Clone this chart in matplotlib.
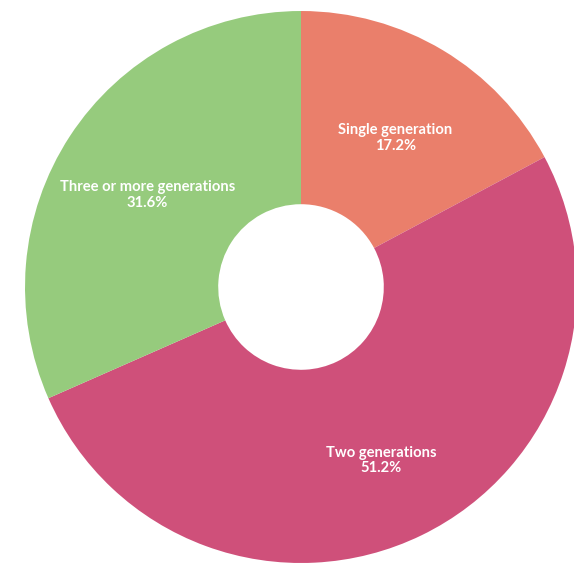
import numpy as np
import matplotlib.pyplot as plt

# Household composition by number of generations
categories = ["Single generation", "Two generations", "Three or more generations"]
shares = [17.2, 51.2, 31.6]
colors = ["#EA7F6B", "#CF507A", "#96CB7D"]

fig = plt.figure(figsize=(5.74, 5.66), dpi=100)
ax = fig.add_axes([0, 0, 1, 1])

wedges, _ = ax.pie(shares, colors=colors, startangle=90, counterclock=False,
                   radius=1.0, wedgeprops=dict(width=0.70, linewidth=0))

# label each slice at its mid-angle, nudged slightly downward
for w, name, val in zip(wedges, categories, shares):
    mid = np.deg2rad((w.theta1 + w.theta2) / 2)
    r = 0.665
    ax.text(r * np.cos(mid), r * np.sin(mid) - 0.03, f"{name}\n{val}%",
            ha="center", va="center", color="white", fontsize=10.6,
            fontweight="bold", family=["Lato", "DejaVu Sans"], linespacing=1.15)

ax.set_xlim(-1.0906, 0.9891)
ax.set_ylim(-1.0109, 1.0399)
ax.axis("off")

fig.savefig("out.png", dpi=100)
